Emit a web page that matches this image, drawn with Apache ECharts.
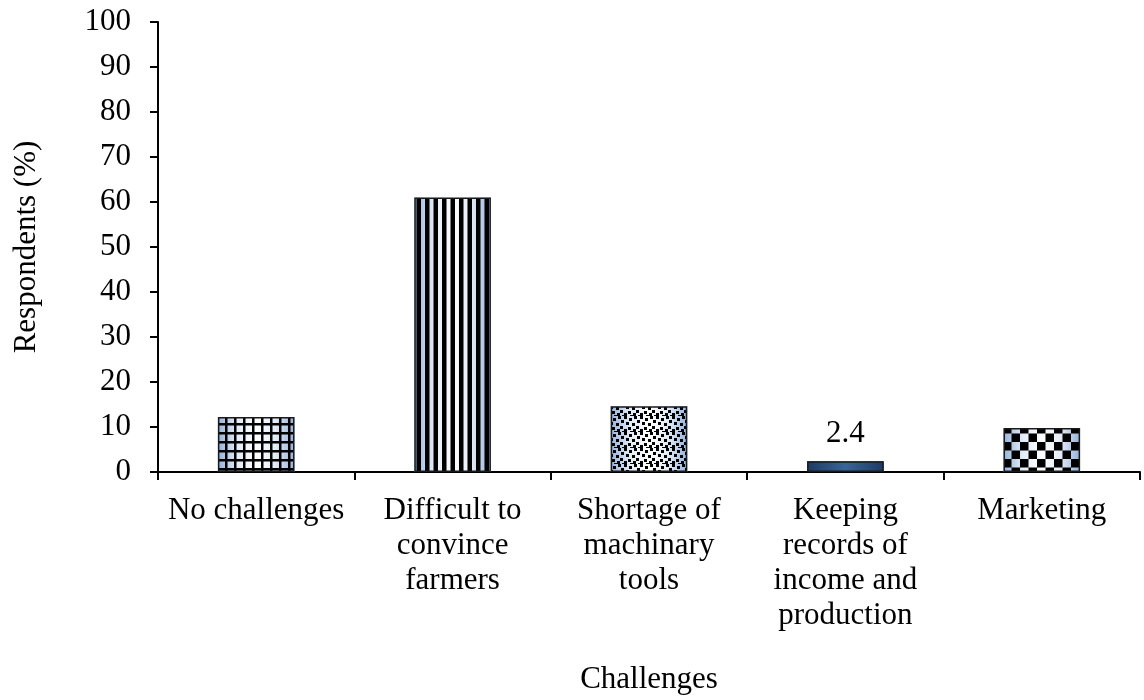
<!DOCTYPE html>
<html>
<head>
<meta charset="utf-8">
<script src="https://cdn.jsdelivr.net/npm/echarts@6/dist/echarts.min.js"></script>
<style>
  html, body { margin: 0; padding: 0; background: #ffffff; }
  #chart { width: 1144px; height: 700px; }
</style>
</head>
<body>
<div id="chart"></div>
<script>
// Survey data: share of respondents reporting each challenge
const categories = [
  'No challenges',
  'Difficult to\nconvince\nfarmers',
  'Shortage of\nmachinary\ntools',
  'Keeping\nrecords of\nincome and\nproduction',
  'Marketing'
];
const respondents = [12.2, 61.0, 14.6, 2.4, 9.8];
const patternKinds = ['grid', 'vstripe', 'dots', 'none', 'checker'];
const labelledIndex = [3];
const yTicks = [0, 10, 20, 30, 40, 50, 60, 70, 80, 90, 100];

const FONT = '"Liberation Serif", "Times New Roman", serif';
const FS = 31;

// Small repeating tiles drawn onto canvases and used as fill patterns
function makeTile(kind) {
  const c = document.createElement('canvas');
  const ctx = c.getContext('2d');
  ctx.fillStyle = '#000';
  if (kind === 'grid') {
    c.width = 9; c.height = 9;
    ctx.fillRect(0, 0, 2.5, 9);
    ctx.fillRect(0, 0, 9, 2.5);
  } else if (kind === 'vstripe') {
    c.width = 17; c.height = 4;
    ctx.fillRect(0, 0, 4.5, 4); ctx.fillRect(8.5, 0, 4.5, 4);
  } else if (kind === 'dots') {
    c.width = 16; c.height = 16;
    const pts = [[0,0],[5,2],[10,0],[13,4],[2,6],[8,7],[12,10],[4,11],[0,13],[9,13],[14,15],[6,15]];
    pts.forEach(p => ctx.fillRect(p[0], p[1], 3, 3));
  } else if (kind === 'checker') {
    c.width = 17; c.height = 17;
    ctx.fillRect(0, 0, 8.5, 8.5); ctx.fillRect(8.5, 8.5, 8.5, 8.5);
  }
  return c;
}

const baseFill = {
  type: 'linear', x: 0, y: 0, x2: 1, y2: 0,
  colorStops: [
    { offset: 0, color: '#94b1da' },
    { offset: 0.25, color: '#e2ebf7' },
    { offset: 0.5, color: '#ffffff' },
    { offset: 0.75, color: '#e2ebf7' },
    { offset: 1, color: '#94b1da' }
  ]
};
const darkFill = {
  type: 'linear', x: 0, y: 0, x2: 1, y2: 0,
  colorStops: [
    { offset: 0, color: '#1d3a62' },
    { offset: 0.5, color: '#3a6599' },
    { offset: 1, color: '#1d3a62' }
  ]
};

const baseData = respondents.map((v, i) => ({
  value: v,
  itemStyle: { color: patternKinds[i] === 'none' ? darkFill : baseFill }
}));
const patternData = respondents.map((v, i) => ({
  value: v,
  itemStyle: {
    color: patternKinds[i] === 'none'
      ? 'rgba(0,0,0,0)'
      : { image: makeTile(patternKinds[i]), repeat: 'repeat' }
  },
  label: { show: labelledIndex.includes(i) }
}));

const chart = echarts.init(document.getElementById('chart'), null, { renderer: 'canvas' });
chart.setOption({
  animation: false,
  backgroundColor: '#ffffff',
  grid: { left: 158, right: 4, top: 22, bottom: 222, containLabel: false },
  xAxis: {
    type: 'category',
    data: categories,
    name: 'Challenges',
    nameLocation: 'middle',
    nameGap: 192,
    nameTextStyle: { fontFamily: FONT, fontSize: FS, color: '#000' },
    axisLine: { lineStyle: { color: '#000', width: 2 } },
    axisTick: { show: true, alignWithLabel: false, length: 8, lineStyle: { color: '#000', width: 2 } },
    axisLabel: {
      fontFamily: FONT, fontSize: FS, color: '#000', lineHeight: 35,
      margin: 21, interval: 0, verticalAlign: 'top'
    }
  },
  yAxis: {
    type: 'value',
    min: 0, max: 100, interval: 10,
    name: 'Respondents (%)',
    nameLocation: 'middle',
    nameGap: 116,
    nameRotate: 90,
    nameTextStyle: { fontFamily: FONT, fontSize: FS, color: '#000' },
    axisLine: { show: true, lineStyle: { color: '#000', width: 2 } },
    axisTick: { show: true, length: 8, lineStyle: { color: '#000', width: 2 } },
    splitLine: { show: false },
    axisLabel: {
      fontFamily: FONT, fontSize: FS, color: '#000', margin: 27,
      formatter: v => (yTicks.includes(v) ? String(v) : '')
    }
  },
  series: [
    {
      type: 'bar',
      data: baseData,
      barWidth: '39%',
      barGap: '-100%',
      z: 2
    },
    {
      type: 'bar',
      data: patternData,
      barWidth: '39%',
      barGap: '-100%',
      z: 3,
      itemStyle: { borderColor: '#1a1a1a', borderWidth: 1.5 },
      label: {
        position: 'top', distance: 12,
        fontFamily: FONT, fontSize: FS, color: '#000',
        formatter: p => String(p.value)
      }
    }
  ]
});
</script>
</body>
</html>
